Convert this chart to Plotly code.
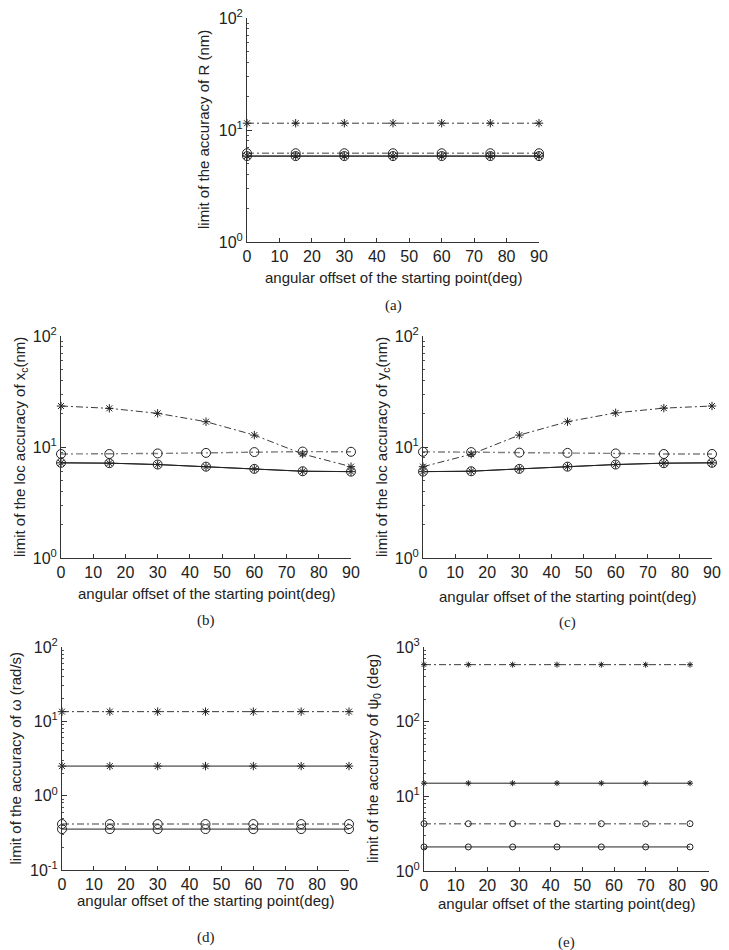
import plotly.graph_objects as go

# ---------------- data ----------------
x_deg = [0, 15, 30, 45, 60, 75, 90]
x_deg_e = [0, 14, 28, 42, 56, 70, 84]

a_star_dd = [11.5, 11.5, 11.5, 11.5, 11.5, 11.5, 11.5]
a_circ_dd = [6.2, 6.2, 6.2, 6.2, 6.2, 6.2, 6.2]
a_star_solid = [5.85, 5.85, 5.85, 5.85, 5.85, 5.85, 5.85]
a_circ_solid = [5.85, 5.85, 5.85, 5.85, 5.85, 5.85, 5.85]

b_star_dd = [23.4, 22.3, 20.1, 16.9, 12.8, 8.65, 6.65]
b_circ_dd = [8.65, 8.65, 8.75, 8.85, 9.0, 9.1, 9.05]
b_star_solid = [7.2, 7.15, 6.95, 6.65, 6.35, 6.05, 6.0]
b_circ_solid = [7.2, 7.15, 6.95, 6.65, 6.35, 6.05, 6.0]

c_star_dd = [6.65, 8.6, 12.8, 16.9, 20.3, 22.4, 23.4]
c_circ_dd = [9.05, 9.0, 8.9, 8.85, 8.75, 8.65, 8.65]
c_star_solid = [6.0, 6.05, 6.35, 6.65, 6.95, 7.15, 7.2]
c_circ_solid = [6.0, 6.05, 6.35, 6.65, 6.95, 7.15, 7.2]

d_star_dd = [13.5, 13.5, 13.5, 13.5, 13.5, 13.5, 13.5]
d_star_solid = [2.5, 2.5, 2.5, 2.5, 2.5, 2.5, 2.5]
d_circ_dd = [0.415, 0.415, 0.415, 0.415, 0.415, 0.415, 0.415]
d_circ_solid = [0.355, 0.355, 0.355, 0.355, 0.355, 0.355, 0.355]

e_star_dd = [580, 580, 580, 580, 580, 580, 580]
e_star_solid = [15, 15, 15, 15, 15, 15, 15]
e_circ_dd = [4.3, 4.3, 4.3, 4.3, 4.3, 4.3, 4.3]
e_circ_solid = [2.1, 2.1, 2.1, 2.1, 2.1, 2.1, 2.1]

x_ticks = [0, 10, 20, 30, 40, 50, 60, 70, 80, 90]

y_titles = {
    "a": "limit of the accuracy of R (nm)",
    "b": "limit of the loc accuracy of x<sub>c</sub>(nm)",
    "c": "limit of the loc accuracy of y<sub>c</sub>(nm)",
    "d": "limit of the accuracy of \u03c9 (rad/s)",
    "e": "limit of the accuracy of \u03c8<sub>0</sub> (deg)",
}
x_title = "angular offset of the starting point(deg)"
captions = {"a": "(a)", "b": "(b)", "c": "(c)", "d": "(d)", "e": "(e)"}

# ---------------- layout (pixel geometry, page coordinates) ----------------
OFF = 8                      # default page margin of the html body
W, H = 729 - OFF, 950 - OFF  # figure size so that it fits in the window
geom = {
    "a": dict(x0=247, x1=539, yt=18, yb=242, lo=0, hi=2, ytoff=43, xtoff=35, cap=305),
    "b": dict(x0=61, x1=351, yt=336, yb=558, lo=0, hi=2, ytoff=41, xtoff=35, cap=620),
    "c": dict(x0=423, x1=712, yt=336, yb=558, lo=0, hi=2, ytoff=41, xtoff=38, cap=622),
    "d": dict(x0=62, x1=349, yt=647, yb=870, lo=-1, hi=2, ytoff=47, xtoff=30, cap=937),
    "e": dict(x0=424, x1=709, yt=647, yb=871, lo=0, hi=3, ytoff=51, xtoff=32, cap=942),
}

def px(v):
    return (v - OFF) / W

def py(v):
    return 1 - (v - OFF) / H

DD = "7px,3px,2px,3px"
STAR_DD = dict(color="#3a3a3a", width=1, dash=DD)
CIRC_DD = dict(color="#808080", width=1.4, dash=DD)
SOLID = dict(color="#222222", width=1)
FONT = "Liberation Sans, Arial"

fig = go.Figure()

def add(idx, xs, ys, line, symbol, msize, name, mcolor="#222222"):
    fig.add_trace(go.Scatter(
        x=xs, y=ys, mode="lines+markers", name=name, line=line,
        marker=dict(symbol=symbol, size=msize, color=mcolor,
                    line=dict(color=mcolor, width=1)),
        xaxis="x" + ("" if idx == 1 else str(idx)),
        yaxis="y" + ("" if idx == 1 else str(idx)),
        cliponaxis=False, showlegend=False))

series = {
    "a": (x_deg, a_star_dd, a_circ_dd, a_star_solid, a_circ_solid),
    "b": (x_deg, b_star_dd, b_circ_dd, b_star_solid, b_circ_solid),
    "c": (x_deg, c_star_dd, c_circ_dd, c_star_solid, c_circ_solid),
    "d": (x_deg, d_star_dd, d_circ_dd, d_star_solid, d_circ_solid),
    "e": (x_deg_e, e_star_dd, e_circ_dd, e_star_solid, e_circ_solid),
}

layout_axes = {}
annotations = []
for i, key in enumerate(["a", "b", "c", "d", "e"], start=1):
    g = geom[key]
    xs, sdd, cdd, ssol, csol = series[key]
    if key == "e":
        csz, ssz = 6, 5
    else:
        csz, ssz = 9, 7
    add(i, xs, cdd, CIRC_DD, "circle-open", csz, "circle, dash-dot")
    add(i, xs, csol, SOLID, "circle-open", csz, "circle, solid")
    add(i, xs, sdd, STAR_DD, "asterisk-open", ssz, "star, dash-dot")
    add(i, xs, ssol, SOLID, "asterisk-open", ssz, "star, solid")

    xa = "xaxis" + ("" if i == 1 else str(i))
    ya = "yaxis" + ("" if i == 1 else str(i))
    yref = "y" + ("" if i == 1 else str(i))
    xref = "x" + ("" if i == 1 else str(i))
    dom_x = [px(g["x0"]), px(g["x1"])]
    dom_y = [py(g["yb"]), py(g["yt"])]
    layout_axes[xa] = dict(
        domain=dom_x, anchor=yref, range=[0, 90], tickvals=x_ticks,
        ticks="inside", ticklen=4, tickcolor="#333", showline=True,
        linecolor="#333", linewidth=1, showgrid=False, zeroline=False,
        tickfont=dict(family=FONT, size=16, color="#222"),
        ticklabeloverflow="allow", automargin=False)
    majors = [10 ** k for k in range(g["lo"], g["hi"] + 1)]
    minors = [m * 10 ** k for k in range(g["lo"], g["hi"]) for m in range(2, 10)]
    layout_axes[ya] = dict(
        domain=dom_y, anchor=xref, type="log", range=[g["lo"], g["hi"]],
        tickvals=majors,
        ticktext=["10<sup>%d</sup>" % k for k in range(g["lo"], g["hi"] + 1)],
        ticks="inside", ticklen=5, tickcolor="#333", showline=True,
        linecolor="#333", linewidth=1, showgrid=False, zeroline=False,
        minor=dict(tickvals=minors, ticks="inside", ticklen=2, tickcolor="#555",
                   showgrid=False),
        tickfont=dict(family=FONT, size=16, color="#222"),
        ticklabeloverflow="allow", automargin=False)

    cx = px((g["x0"] + g["x1"]) / 2)
    cy = py((g["yt"] + g["yb"]) / 2)
    annotations.append(dict(
        text=y_titles[key], xref="paper", yref="paper",
        x=px(g["x0"] - g["ytoff"]), y=cy, textangle=-90, showarrow=False,
        xanchor="center", yanchor="middle",
        font=dict(family=FONT, size=15, color="#222")))
    annotations.append(dict(
        text=x_title, xref="paper", yref="paper",
        x=cx, y=py(g["yb"] + g["xtoff"]), showarrow=False,
        xanchor="center", yanchor="middle",
        font=dict(family=FONT, size=15, color="#222")))
    annotations.append(dict(
        text=captions[key], xref="paper", yref="paper",
        x=cx, y=py(g["cap"]), showarrow=False,
        xanchor="center", yanchor="middle",
        font=dict(family="Liberation Serif, Times New Roman", size=15, color="#222")))

fig.update_layout(
    width=W, height=H, margin=dict(l=0, r=0, t=0, b=0),
    paper_bgcolor="white", plot_bgcolor="white",
    annotations=annotations, showlegend=False, **layout_axes)

fig.write_html("out.html")
